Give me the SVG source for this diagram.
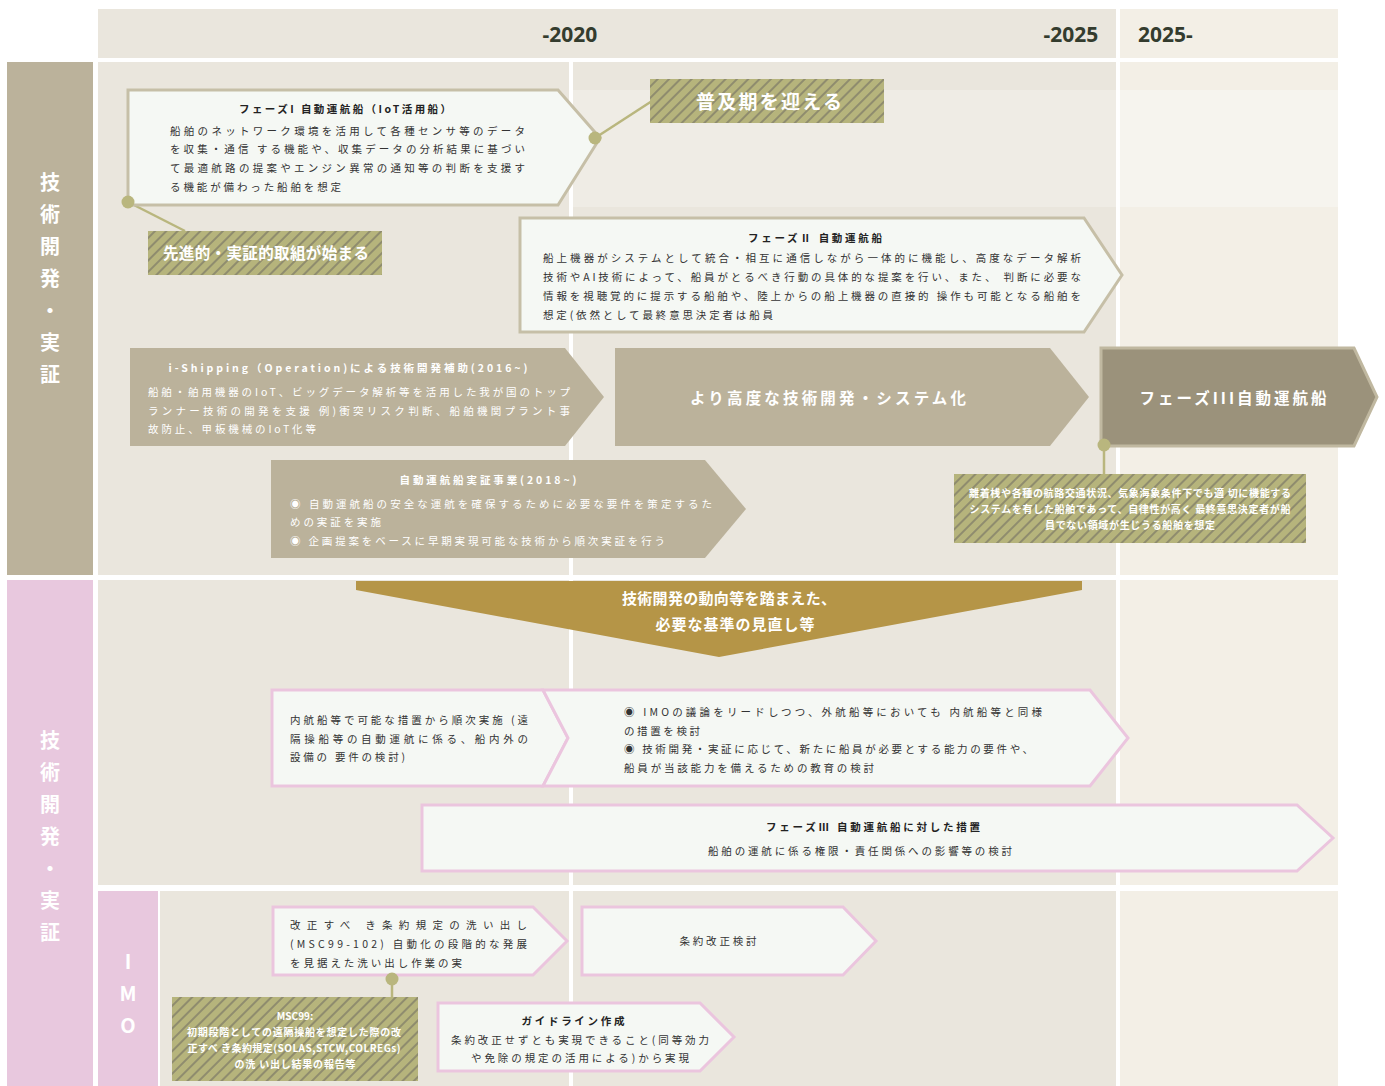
<svg xmlns="http://www.w3.org/2000/svg" width="1385" height="1086" viewBox="0 0 1385 1086">
<defs>
<pattern id="hatch" width="8" height="8" patternUnits="userSpaceOnUse" patternTransform="rotate(45)">
<rect width="8" height="8" fill="#b6b47c"/>
<rect width="2" height="8" fill="#8f8c6e"/>
</pattern>
<style>
text{font-family:"Noto Sans CJK JP","Noto Sans",sans-serif}
.cell{fill:#eae6dd}
.cellr{fill:#f3efe6}
.yr{font-family:"Noto Sans","Noto Sans CJK JP",sans-serif;font-weight:bold;font-size:21px;fill:#343c2e}
.side{font-size:20px;font-weight:bold;fill:#fff;text-anchor:middle}
.boxT{fill:#f5f8f4;stroke:#c6bfa7;stroke-width:3}
.boxP{fill:#f5f8f4;stroke:#ebc5de;stroke-width:3}
.tan{fill:#bbb29b}
.hat{fill:url(#hatch)}
.t{font-size:10.5px;fill:#333}
.tb{font-size:10.5px;font-weight:bold;fill:#222;text-anchor:middle}
.w{font-size:10.5px;fill:#fff}
.wb{font-size:10.5px;font-weight:bold;fill:#fff;text-anchor:middle}
.hw{font-size:10px;font-weight:bold;fill:#fff;text-anchor:middle}
.big{font-size:15px;font-weight:bold;fill:#fff;text-anchor:middle}
.con{stroke:#b9b67e;stroke-width:2.5;fill:none}
.dot{fill:#b9b67e}
</style>
</defs>
<rect width="1385" height="1086" fill="#fff"/>
<g id="grid">
<rect class="cell" x="98" y="9" width="1018" height="49"/>
<rect class="cellr" x="1120" y="9" width="218" height="49"/>
<rect class="cell" x="98" y="62" width="471" height="513"/>
<rect class="cell" x="573" y="62" width="543" height="513"/>
<rect class="cellr" x="1120" y="62" width="218" height="513"/>
<rect x="573" y="90" width="543" height="117" fill="#efece5"/>
<rect x="1120" y="90" width="218" height="117" fill="#f6f4ee"/>
<rect class="cell" x="98" y="580" width="471" height="305"/>
<rect class="cell" x="573" y="580" width="543" height="305"/>
<rect class="cellr" x="1120" y="580" width="218" height="305"/>
<rect class="cell" x="160" y="891" width="409" height="195"/>
<rect class="cell" x="573" y="891" width="543" height="195"/>
<rect class="cellr" x="1120" y="891" width="218" height="195"/>
<rect x="7" y="62" width="86" height="513" fill="#bbb29b"/>
<rect x="7" y="580" width="86" height="506" fill="#e8c8de"/>
<rect x="98" y="891" width="60" height="195" fill="#e8c8de"/>
</g>
<g id="header">
<text class="yr" x="570" y="42" text-anchor="middle">-2020</text>
<text class="yr" x="1071" y="42" text-anchor="middle">-2025</text>
<text class="yr" x="1138" y="42">2025-</text>
</g>
<g id="side-top">
<text class="side" x="50" y="190">技</text>
<text class="side" x="50" y="222">術</text>
<text class="side" x="50" y="254">開</text>
<text class="side" x="50" y="286">発</text>
<text class="side" x="50" y="318">・</text>
<text class="side" x="50" y="350">実</text>
<text class="side" x="50" y="382">証</text>
</g>
<g id="side-bottom">
<text class="side" x="50" y="748">技</text>
<text class="side" x="50" y="780">術</text>
<text class="side" x="50" y="812">開</text>
<text class="side" x="50" y="844">発</text>
<text class="side" x="50" y="876">・</text>
<text class="side" x="50" y="908">実</text>
<text class="side" x="50" y="940">証</text>
</g>
<g id="side-imo">
<text class="side" x="128" y="969">I</text>
<text class="side" x="128" y="1001">M</text>
<text class="side" x="128" y="1033">O</text>
</g>
<g id="connectors">
<line class="con" x1="128" y1="202" x2="185" y2="231"/>
<line class="con" x1="595" y1="138" x2="652" y2="101"/>
<line class="con" x1="1104" y1="445" x2="1104" y2="474"/>
<line class="con" x1="392" y1="979" x2="392" y2="997"/>
</g>
<g id="phase1">
<polygon class="boxT" points="128,90 558,90 600,138 558,205 128,205"/>
<text class="tb" x="345" y="113" textLength="212" lengthAdjust="spacing">フェーズI 自動運航船（IoT活用船）</text>
<text class="t" x="170" y="135" textLength="355" lengthAdjust="spacing">船舶のネットワーク環境を活用して各種センサ等のデータ</text>
<text class="t" x="170" y="153" textLength="355" lengthAdjust="spacing">を収集・通信 する機能や、収集データの分析結果に基づい</text>
<text class="t" x="170" y="172" textLength="355" lengthAdjust="spacing">て最適航路の提案やエンジン異常の通知等の判断を支援す</text>
<text class="t" x="170" y="191" textLength="171" lengthAdjust="spacing">る機能が備わった船舶を想定</text>
</g>
<g id="fukyu">
<rect class="hat" x="650" y="79" width="234" height="44"/>
<text x="769" y="109" font-size="19" font-weight="bold" fill="#fff" text-anchor="middle" textLength="146" lengthAdjust="spacing">普及期を迎える</text>
</g>
<g id="senshin">
<rect class="hat" x="148" y="231" width="234" height="44"/>
<text x="266" y="259" font-size="15.5" font-weight="bold" fill="#fff" text-anchor="middle" textLength="206" lengthAdjust="spacing">先進的・実証的取組が始まる</text>
</g>
<g id="phase2">
<polygon class="boxT" points="520,218 1084,218 1122,275 1084,332 520,332"/>
<text class="tb" x="815" y="242" textLength="134" lengthAdjust="spacing">フェーズⅡ 自動運航船</text>
<text class="t" x="543" y="262" textLength="538" lengthAdjust="spacing">船上機器がシステムとして統合・相互に通信しながら一体的に機能し、高度なデータ解析</text>
<text class="t" x="543" y="281" textLength="538" lengthAdjust="spacing">技術やAI技術によって、船員がとるべき行動の具体的な提案を行い、また、 判断に必要な</text>
<text class="t" x="543" y="300" textLength="538" lengthAdjust="spacing">情報を視聴覚的に提示する船舶や、陸上からの船上機器の直接的 操作も可能となる船舶を</text>
<text class="t" x="543" y="319" textLength="230" lengthAdjust="spacing">想定(依然として最終意思決定者は船員</text>
</g>
<g id="ishipping">
<polygon class="tan" points="130,348 565,348 604,397 565,446 130,446"/>
<text class="wb" x="348" y="372" textLength="359" lengthAdjust="spacing">i-Shipping（Operation)による技術開発補助(2016~)</text>
<text class="w" x="148" y="396" textLength="422" lengthAdjust="spacing">船舶・舶用機器のIoT、ビッグデータ解析等を活用した我が国のトップ</text>
<text class="w" x="148" y="415" textLength="422" lengthAdjust="spacing">ランナー技術の開発を支援 例)衝突リスク判断、船舶機関プラント事</text>
<text class="w" x="148" y="433" textLength="168" lengthAdjust="spacing">故防止、甲板機械のIoT化等</text>
</g>
<g id="koudo">
<polygon class="tan" points="615,348 1050,348 1089,397 1050,446 615,446"/>
<text x="828" y="404" font-size="15.5" font-weight="bold" fill="#fff" text-anchor="middle" textLength="276" lengthAdjust="spacing">より高度な技術開発・システム化</text>
</g>
<g id="phase3">
<polygon points="1101,348 1354,348 1377,397 1354,446 1101,446" fill="#9b927b" stroke="#c0b8a0" stroke-width="3"/>
<text x="1233" y="404" font-size="15.5" font-weight="bold" fill="#fff" text-anchor="middle" textLength="187" lengthAdjust="spacing">フェーズIII自動運航船</text>
</g>
<g id="jisshou">
<polygon class="tan" points="271,460 705,460 746,509 705,558 271,558"/>
<text class="wb" x="488" y="484" textLength="177" lengthAdjust="spacing">自動運航船実証事業(2018~)</text>
<text class="w" x="290" y="508" textLength="422" lengthAdjust="spacing">◉ 自動運航船の安全な運航を確保するために必要な要件を策定するた</text>
<text class="w" x="290" y="526" textLength="91" lengthAdjust="spacing">めの実証を実施</text>
<text class="w" x="290" y="545" textLength="375" lengthAdjust="spacing">◉ 企画提案をベースに早期実現可能な技術から順次実証を行う</text>
</g>
<g id="phase3-note">
<rect class="hat" x="954" y="474" width="352" height="69"/>
<text class="hw" x="1130" y="497" textLength="322" lengthAdjust="spacing">離着桟や各種の航路交通状況、気象海象条件下でも適 切に機能する</text>
<text class="hw" x="1130" y="513" textLength="321" lengthAdjust="spacing">システムを有した船舶であって、自律性が高く 最終意思決定者が船</text>
<text class="hw" x="1130" y="529" textLength="170" lengthAdjust="spacing">員でない領域が生じうる船舶を想定</text>
</g>
<g id="minaoshi">
<polygon points="356,581 1082,581 1082,590 719,657 356,590" fill="#b59547"/>
<text class="big" x="729" y="604" textLength="214" lengthAdjust="spacing">技術開発の動向等を踏まえた、</text>
<text class="big" x="735" y="630" textLength="159" lengthAdjust="spacing">必要な基準の見直し等</text>
</g>
<g id="naikou">
<polygon class="boxP" points="272,690 543,690 568,738 543,786 272,786"/>
<text class="t" x="290" y="724" textLength="238" lengthAdjust="spacing">内航船等で可能な措置から順次実施 (遠</text>
<text class="t" x="290" y="743" textLength="238" lengthAdjust="spacing">隔操船等の自動運航に係る、船内外の</text>
<text class="t" x="290" y="761" textLength="115" lengthAdjust="spacing">設備の 要件の検討)</text>
</g>
<g id="imo-lead">
<polygon class="boxP" points="543,690 1090,690 1128,738 1090,786 543,786 568,738"/>
<text class="t" x="624" y="716" textLength="418" lengthAdjust="spacing">◉ IMOの議論をリードしつつ、外航船等においても 内航船等と同様</text>
<text class="t" x="624" y="735" textLength="76" lengthAdjust="spacing">の措置を検討</text>
<text class="t" x="624" y="753" textLength="409" lengthAdjust="spacing">◉ 技術開発・実証に応じて、新たに船員が必要とする能力の要件や、</text>
<text class="t" x="624" y="772" textLength="250" lengthAdjust="spacing">船員が当該能力を備えるための教育の検討</text>
</g>
<g id="phase3-measure">
<polygon class="boxP" points="422,805 1297,805 1333,838 1297,871 422,871"/>
<text class="tb" x="873" y="831" textLength="214" lengthAdjust="spacing">フェーズⅢ 自動運航船に対した措置</text>
<text class="t" x="708" y="855" textLength="304" lengthAdjust="spacing">船舶の運航に係る権限・責任関係への影響等の検討</text>
</g>
<g id="araidashi">
<polygon class="boxP" points="273,907 533,907 567,941 533,975 273,975"/>
<text class="t" x="290" y="929" textLength="237" lengthAdjust="spacing">改正すべ き条約規定の洗い出し</text>
<text class="t" x="290" y="948" textLength="237" lengthAdjust="spacing">(MSC99-102) 自動化の段階的な発展</text>
<text class="t" x="290" y="967" textLength="172" lengthAdjust="spacing">を見据えた洗い出し作業の実</text>
</g>
<g id="jouyaku">
<polygon class="boxP" points="582,907 843,907 876,941 843,975 582,975"/>
<text class="t" x="718" y="945" text-anchor="middle" textLength="77" lengthAdjust="spacing">条約改正検討</text>
</g>
<g id="msc99">
<rect class="hat" x="172" y="997" width="246" height="84"/>
<text class="hw" x="295" y="1020">MSC99:</text>
<text class="hw" x="294" y="1036" textLength="214" lengthAdjust="spacing">初期段階としての遠隔操船を想定した際の改</text>
<text class="hw" x="294" y="1052" textLength="213" lengthAdjust="spacing">正すべ き条約規定(SOLAS,STCW,COLREGs)</text>
<text class="hw" x="295" y="1068" textLength="121" lengthAdjust="spacing">の洗 い出し結果の報告等</text>
</g>
<g id="guideline">
<polygon class="boxP" points="438,1003 700,1003 734,1037 700,1071 438,1071"/>
<text class="tb" x="573" y="1025" textLength="103" lengthAdjust="spacing">ガイドライン作成</text>
<text class="t" x="451" y="1044" textLength="258" lengthAdjust="spacing">条約改正せずとも実現できること(同等効力</text>
<text class="t" x="471" y="1062" textLength="218" lengthAdjust="spacing">や免除の規定の活用による)から実現</text>
</g>
<g id="dots">
<circle class="dot" cx="128" cy="202" r="6.5"/>
<circle class="dot" cx="595" cy="138" r="6.5"/>
<circle class="dot" cx="1104" cy="445" r="6.5"/>
<circle class="dot" cx="392" cy="979" r="6.5"/>
</g>
</svg>
